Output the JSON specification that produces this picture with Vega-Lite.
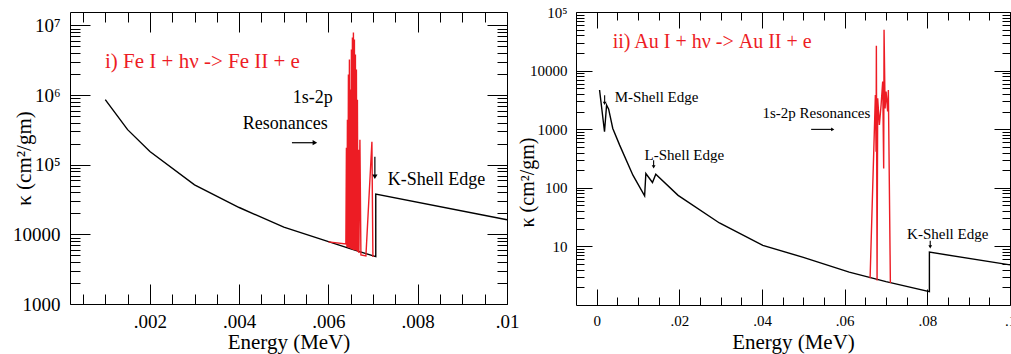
{
  "$schema": "https://vega.github.io/schema/vega-lite/v6.json",
  "padding": {"left": 12, "top": 4, "right": 5, "bottom": 5},
  "bounds": "flush",
  "spacing": 69,
  "background": "white",
  "config": {
    "font": "Liberation Serif",
    "view": {"stroke": "black", "strokeWidth": 1},
    "axis": {"grid": false, "domain": false, "tickColor": "black", "labelColor": "black", "titleColor": "black", "labelFont": "Liberation Serif", "titleFont": "Liberation Serif", "titleFontWeight": "normal", "tickWidth": 1, "labelFlush": false, "labelOverlap": false},
    "text": {"font": "Liberation Serif"}
  },
  "datasets": {
    "feBlack": [
      {"i": 1, "E": 0.001, "k": 860000},
      {"i": 2, "E": 0.0015, "k": 319000},
      {"i": 3, "E": 0.002, "k": 155000},
      {"i": 4, "E": 0.003, "k": 51500},
      {"i": 5, "E": 0.004, "k": 24300},
      {"i": 6, "E": 0.005, "k": 12700},
      {"i": 7, "E": 0.006, "k": 7870},
      {"i": 8, "E": 0.0065, "k": 6180},
      {"i": 9, "E": 0.00706, "k": 4790},
      {"i": 10, "E": 0.00706, "k": 37900},
      {"i": 11, "E": 0.01, "k": 16200}
    ],
    "feRed": [
      {"i": 1, "E": 0.006, "k": 7800},
      {"i": 2, "E": 0.00639, "k": 7300},
      {"i": 3, "E": 0.0064025, "k": 175600},
      {"i": 4, "E": 0.006414, "k": 6600},
      {"i": 5, "E": 0.0064249, "k": 444000},
      {"i": 6, "E": 0.0064361, "k": 6500},
      {"i": 7, "E": 0.0064473, "k": 1970000},
      {"i": 8, "E": 0.0064585, "k": 6400},
      {"i": 9, "E": 0.0064697, "k": 3240000},
      {"i": 10, "E": 0.0064809, "k": 6300},
      {"i": 11, "E": 0.0064921, "k": 1200000},
      {"i": 12, "E": 0.0065033, "k": 6200},
      {"i": 13, "E": 0.0065145, "k": 4520000},
      {"i": 14, "E": 0.0065257, "k": 6100},
      {"i": 15, "E": 0.0065369, "k": 6720000},
      {"i": 16, "E": 0.0065481, "k": 6000},
      {"i": 17, "E": 0.0065593, "k": 7930000},
      {"i": 18, "E": 0.0065705, "k": 5950},
      {"i": 19, "E": 0.0065817, "k": 6300000},
      {"i": 20, "E": 0.0065929, "k": 5900},
      {"i": 21, "E": 0.0066041, "k": 3830000},
      {"i": 22, "E": 0.0066153, "k": 5850},
      {"i": 23, "E": 0.0066265, "k": 2330000},
      {"i": 24, "E": 0.0066377, "k": 5800},
      {"i": 25, "E": 0.0066489, "k": 860000},
      {"i": 26, "E": 0.0066601, "k": 5600},
      {"i": 27, "E": 0.0066713, "k": 164000},
      {"i": 28, "E": 0.0066825, "k": 5400},
      {"i": 29, "E": 0.0067049, "k": 229000},
      {"i": 30, "E": 0.0067273, "k": 5070},
      {"i": 31, "E": 0.0068392, "k": 4900},
      {"i": 32, "E": 0.0069736, "k": 214000},
      {"i": 33, "E": 0.006996, "k": 4740}
    ],
    "feTitle": [{"E": 0.000994, "k": 3030000, "t": "i) Fe I + hν -> Fe II + e"}],
    "feNotes": [
      {"E": 0.0052, "k": 920000, "t": "1s-2p"},
      {"E": 0.00408, "k": 389000, "t": "Resonances"},
      {"E": 0.00733, "k": 60800, "t": "K-Shell Edge"}
    ],
    "feArrows": [
      {"E": 0.005182, "E2": 0.005697, "k": 207000, "k2": 207000, "dir": "right"},
      {"E": 0.00704, "E2": 0.00704, "k": 130000, "k2": 67100, "dir": "down"}
    ],
    "auBlack": [
      {"i": 1, "E": 0.0007, "k": 4670},
      {"i": 2, "E": 0.0019, "k": 906},
      {"i": 3, "E": 0.0024, "k": 2590},
      {"i": 4, "E": 0.0029, "k": 2200},
      {"i": 5, "E": 0.0039, "k": 1030},
      {"i": 6, "E": 0.00556, "k": 535},
      {"i": 7, "E": 0.00877, "k": 164},
      {"i": 8, "E": 0.0116, "k": 72.7},
      {"i": 9, "E": 0.0119, "k": 175},
      {"i": 10, "E": 0.0135, "k": 123},
      {"i": 11, "E": 0.0143, "k": 170},
      {"i": 12, "E": 0.0197, "k": 74.4},
      {"i": 13, "E": 0.0297, "k": 25.1},
      {"i": 14, "E": 0.0402, "k": 10.4},
      {"i": 15, "E": 0.05, "k": 6.5},
      {"i": 16, "E": 0.0611, "k": 3.63},
      {"i": 17, "E": 0.07, "k": 2.5},
      {"i": 18, "E": 0.0805, "k": 1.69},
      {"i": 19, "E": 0.0805, "k": 7.98},
      {"i": 20, "E": 0.1, "k": 4.84}
    ],
    "auRed": [
      {"i": 1, "E": 0.06615, "k": 2.87},
      {"i": 2, "E": 0.06743, "k": 3840},
      {"i": 3, "E": 0.0676, "k": 412},
      {"i": 4, "E": 0.06767, "k": 26500},
      {"i": 5, "E": 0.06784, "k": 2.61},
      {"i": 6, "E": 0.06799, "k": 3370},
      {"i": 7, "E": 0.0684, "k": 1180},
      {"i": 8, "E": 0.06881, "k": 2590},
      {"i": 9, "E": 0.0692, "k": 6500},
      {"i": 10, "E": 0.06944, "k": 213},
      {"i": 11, "E": 0.06953, "k": 49800},
      {"i": 12, "E": 0.06978, "k": 2270},
      {"i": 13, "E": 0.07002, "k": 4390},
      {"i": 14, "E": 0.0704, "k": 2000},
      {"i": 15, "E": 0.07057, "k": 4680},
      {"i": 16, "E": 0.07106, "k": 2.38}
    ],
    "auTitle": [{"E": 0.00387, "k": 30600, "t": "ii) Au I + hν -> Au II + e"}],
    "auNotes": [
      {"E": 0.00435, "k": 3500, "t": "M-Shell Edge"},
      {"E": 0.0116, "k": 370, "t": "L-Shell Edge"},
      {"E": 0.0401, "k": 1870, "t": "1s-2p Resonances"},
      {"E": 0.0751, "k": 16.4, "t": "K-Shell Edge"}
    ],
    "auArrows": [
      {"E": 0.05189, "E2": 0.05711, "k": 993, "k2": 993, "dir": "right"},
      {"E": 0.00193, "E2": 0.00193, "k": 3790, "k2": 2766, "dir": "down"},
      {"E": 0.01378, "E2": 0.01378, "k": 296, "k2": 228, "dir": "down"},
      {"E": 0.0807, "E2": 0.0807, "k": 12.5, "k2": 9.8, "dir": "down"}
    ]
  },
  "hconcat": [
    {
      "width": 437,
      "height": 292,
      "layer": [
        {
          "data": {"name": "feBlack"},
          "mark": {"type": "line", "color": "black", "strokeWidth": 1.4},
          "encoding": {
            "x": {"field": "E", "type": "quantitative", "scale": {"domain": [0.00021, 0.01], "nice": false, "zero": false},
              "axis": {"orient": "bottom", "values": [0.002, 0.004, 0.006, 0.008, 0.01], "labelExpr": "replace(format(datum.value,'.3~f'),'0.','.')", "tickSize": -20, "labelPadding": 28, "labelFontSize": 19, "title": "Energy (MeV)", "titleFontSize": 21, "titlePadding": 0}},
            "y": {"field": "k", "type": "quantitative", "scale": {"type": "log", "domain": [1000, 15600000], "nice": false},
              "axis": {"orient": "left", "values": [1000, 10000, 100000, 1000000, 10000000], "labelExpr": "datum.value == 100000 ? '10⁵' : datum.value == 1000000 ? '10⁶' : datum.value == 10000000 ? '10⁷' : format(datum.value, 'd')", "tickSize": -20, "labelPadding": 30, "labelFontSize": 19, "title": "κ (cm²/gm)", "titleFontSize": 21, "titlePadding": 0, "minExtent": 36, "maxExtent": 36}},
            "order": {"field": "i", "type": "quantitative"}
          }
        },
        {
          "data": {"name": "feRed"},
          "mark": {"type": "line", "color": "#ed1c24", "strokeWidth": 1.4},
          "encoding": {
            "x": {"field": "E", "type": "quantitative", "scale": {"domain": [0.00021, 0.01], "nice": false, "zero": false},
              "axis": {"orient": "bottom", "values": [0.0005, 0.001, 0.0015, 0.0025, 0.003, 0.0035, 0.0045, 0.005, 0.0055, 0.0065, 0.007, 0.0075, 0.0085, 0.009, 0.0095], "tickSize": -10, "labels": false, "title": null, "minExtent": 0}},
            "y": {"field": "k", "type": "quantitative", "scale": {"type": "log", "domain": [1000, 15600000], "nice": false},
              "axis": {"orient": "left", "values": [2000, 3000, 4000, 5000, 6000, 7000, 8000, 9000, 20000, 30000, 40000, 50000, 60000, 70000, 80000, 90000, 200000, 300000, 400000, 500000, 600000, 700000, 800000, 900000, 2000000, 3000000, 4000000, 5000000, 6000000, 7000000, 8000000, 9000000], "tickSize": -10, "labels": false, "title": null, "minExtent": 0}},
            "order": {"field": "i", "type": "quantitative"}
          }
        },
        {
          "data": {"name": "feTitle"},
          "mark": {"type": "text", "color": "#ed1c24", "fontSize": 21, "align": "left", "baseline": "middle"},
          "encoding": {
            "x": {"field": "E", "type": "quantitative", "axis": {"orient": "top", "values": [0.002, 0.004, 0.006, 0.008, 0.01], "tickSize": -20, "labels": false, "title": null, "minExtent": 0, "maxExtent": 0}},
            "y": {"field": "k", "type": "quantitative", "scale": {"type": "log"}, "axis": {"orient": "right", "values": [1000, 10000, 100000, 1000000, 10000000], "tickSize": -20, "labels": false, "title": null, "minExtent": 0, "maxExtent": 0}},
            "text": {"field": "t"}
          }
        },
        {
          "data": {"name": "feNotes"},
          "mark": {"type": "text", "color": "black", "fontSize": 18, "align": "left", "baseline": "middle"},
          "encoding": {
            "x": {"field": "E", "type": "quantitative", "axis": {"orient": "top", "values": [0.0005, 0.001, 0.0015, 0.0025, 0.003, 0.0035, 0.0045, 0.005, 0.0055, 0.0065, 0.007, 0.0075, 0.0085, 0.009, 0.0095], "tickSize": -10, "labels": false, "title": null, "minExtent": 0, "maxExtent": 0}},
            "y": {"field": "k", "type": "quantitative", "scale": {"type": "log"}, "axis": {"orient": "right", "values": [2000, 3000, 4000, 5000, 6000, 7000, 8000, 9000, 20000, 30000, 40000, 50000, 60000, 70000, 80000, 90000, 200000, 300000, 400000, 500000, 600000, 700000, 800000, 900000, 2000000, 3000000, 4000000, 5000000, 6000000, 7000000, 8000000, 9000000], "tickSize": -10, "labels": false, "title": null, "minExtent": 0, "maxExtent": 0}},
            "text": {"field": "t"}
          }
        },
        {
          "data": {"name": "feArrows"},
          "mark": {"type": "rule", "color": "black", "strokeWidth": 1.2},
          "encoding": {
            "x": {"field": "E", "type": "quantitative", "axis": null},
            "x2": {"field": "E2"},
            "y": {"field": "k", "type": "quantitative", "scale": {"type": "log"}, "axis": null},
            "y2": {"field": "k2"}
          }
        },
        {
          "data": {"name": "feArrows"},
          "mark": {"type": "point", "filled": true, "color": "black", "opacity": 1, "size": 28},
          "encoding": {
            "x": {"field": "E2", "type": "quantitative", "axis": null},
            "y": {"field": "k2", "type": "quantitative", "scale": {"type": "log"}, "axis": null},
            "shape": {"field": "dir", "type": "nominal", "scale": {"domain": ["right", "down"], "range": ["triangle-right", "triangle-down"]}, "legend": null}
          }
        }
      ],
      "resolve": {"axis": {"x": "independent", "y": "independent"}}
    },
    {
      "width": 434,
      "height": 293,
      "layer": [
        {
          "data": {"name": "auBlack"},
          "mark": {"type": "line", "color": "black", "strokeWidth": 1.4},
          "encoding": {
            "x": {"field": "E", "type": "quantitative", "scale": {"domain": [-0.005, 0.1], "nice": false, "zero": false},
              "axis": {"orient": "bottom", "values": [0, 0.02, 0.04, 0.06, 0.08, 0.1], "labelExpr": "replace(format(datum.value,'.3~f'),'0.','.')", "tickSize": -16, "labelPadding": 24, "labelFontSize": 15, "title": "Energy (MeV)", "titleFontSize": 21, "titlePadding": 3}},
            "y": {"field": "k", "type": "quantitative", "scale": {"type": "log", "domain": [1, 100000], "nice": false},
              "axis": {"orient": "left", "values": [10, 100, 1000, 10000, 100000], "labelExpr": "datum.value == 100000 ? '10⁵' : format(datum.value, 'd')", "tickSize": -16, "labelPadding": 25, "labelFontSize": 15, "title": "κ (cm²/gm)", "titleFontSize": 20, "titlePadding": 0, "titleY": 170, "minExtent": 39, "maxExtent": 39}},
            "order": {"field": "i", "type": "quantitative"}
          }
        },
        {
          "data": {"name": "auRed"},
          "mark": {"type": "line", "color": "#ed1c24", "strokeWidth": 1.4},
          "encoding": {
            "x": {"field": "E", "type": "quantitative", "scale": {"domain": [-0.005, 0.1], "nice": false, "zero": false},
              "axis": {"orient": "bottom", "values": [0.005, 0.01, 0.015, 0.025, 0.03, 0.035, 0.045, 0.05, 0.055, 0.065, 0.07, 0.075, 0.085, 0.09, 0.095], "tickSize": -8, "labels": false, "title": null, "minExtent": 0}},
            "y": {"field": "k", "type": "quantitative", "scale": {"type": "log", "domain": [1, 100000], "nice": false},
              "axis": {"orient": "left", "values": [2, 3, 4, 5, 6, 7, 8, 9, 20, 30, 40, 50, 60, 70, 80, 90, 200, 300, 400, 500, 600, 700, 800, 900, 2000, 3000, 4000, 5000, 6000, 7000, 8000, 9000, 20000, 30000, 40000, 50000, 60000, 70000, 80000, 90000], "tickSize": -8, "labels": false, "title": null, "minExtent": 0}},
            "order": {"field": "i", "type": "quantitative"}
          }
        },
        {
          "data": {"name": "auTitle"},
          "mark": {"type": "text", "color": "#ed1c24", "fontSize": 20, "align": "left", "baseline": "middle"},
          "encoding": {
            "x": {"field": "E", "type": "quantitative", "axis": {"orient": "top", "values": [0, 0.02, 0.04, 0.06, 0.08, 0.1], "tickSize": -16, "labels": false, "title": null, "minExtent": 0, "maxExtent": 0}},
            "y": {"field": "k", "type": "quantitative", "scale": {"type": "log"}, "axis": {"orient": "right", "values": [10, 100, 1000, 10000, 100000], "tickSize": -16, "labels": false, "title": null, "minExtent": 0, "maxExtent": 0}},
            "text": {"field": "t"}
          }
        },
        {
          "data": {"name": "auNotes"},
          "mark": {"type": "text", "color": "black", "fontSize": 15, "align": "left", "baseline": "middle"},
          "encoding": {
            "x": {"field": "E", "type": "quantitative", "axis": {"orient": "top", "values": [0.005, 0.01, 0.015, 0.025, 0.03, 0.035, 0.045, 0.05, 0.055, 0.065, 0.07, 0.075, 0.085, 0.09, 0.095], "tickSize": -8, "labels": false, "title": null, "minExtent": 0, "maxExtent": 0}},
            "y": {"field": "k", "type": "quantitative", "scale": {"type": "log"}, "axis": {"orient": "right", "values": [2, 3, 4, 5, 6, 7, 8, 9, 20, 30, 40, 50, 60, 70, 80, 90, 200, 300, 400, 500, 600, 700, 800, 900, 2000, 3000, 4000, 5000, 6000, 7000, 8000, 9000, 20000, 30000, 40000, 50000, 60000, 70000, 80000, 90000], "tickSize": -8, "labels": false, "title": null, "minExtent": 0, "maxExtent": 0}},
            "text": {"field": "t"}
          }
        },
        {
          "data": {"name": "auArrows"},
          "mark": {"type": "rule", "color": "black", "strokeWidth": 1.1},
          "encoding": {
            "x": {"field": "E", "type": "quantitative", "axis": null},
            "x2": {"field": "E2"},
            "y": {"field": "k", "type": "quantitative", "scale": {"type": "log"}, "axis": null},
            "y2": {"field": "k2"}
          }
        },
        {
          "data": {"name": "auArrows"},
          "mark": {"type": "point", "filled": true, "color": "black", "opacity": 1, "size": 14},
          "encoding": {
            "x": {"field": "E2", "type": "quantitative", "axis": null},
            "y": {"field": "k2", "type": "quantitative", "scale": {"type": "log"}, "axis": null},
            "shape": {"field": "dir", "type": "nominal", "scale": {"domain": ["right", "down"], "range": ["triangle-right", "triangle-down"]}, "legend": null}
          }
        }
      ],
      "resolve": {"axis": {"x": "independent", "y": "independent"}}
    }
  ]
}
